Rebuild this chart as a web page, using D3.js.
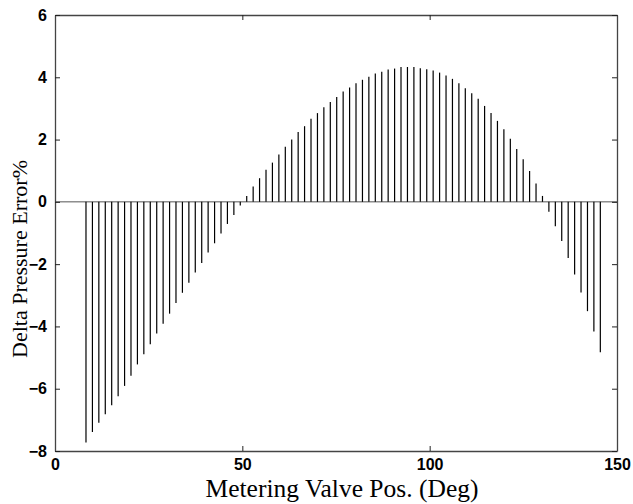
<!DOCTYPE html>
<html>
<head>
<meta charset="utf-8">
<script src="https://cdn.jsdelivr.net/npm/d3@7"></script>
<style>
  html, body { margin: 0; padding: 0; background: #fff; }
  svg { display: block; }
  .tick text { font-family: "Liberation Sans", Arial, sans-serif; font-weight: bold; font-size: 16px; fill: #000; }
  .axis-title { font-family: "Liberation Serif", "DejaVu Serif", serif; fill: #000; }
</style>
</head>
<body>
<svg id="chart" width="633" height="504"></svg>
<script>
// valve positions (deg) of each stem
const positions = [
  8.27, 9.99, 11.70, 13.42, 15.13, 16.85, 18.57, 20.28, 22.00, 23.71,
  25.43, 27.15, 28.86, 30.58, 32.29, 34.01, 35.73, 37.44, 39.16, 40.87,
  42.59, 44.31, 46.02, 47.74, 49.45, 51.17, 52.89, 54.60, 56.32, 58.03,
  59.75, 61.47, 63.18, 64.90, 66.61, 68.33, 70.05, 71.76, 73.48, 75.19,
  76.91, 78.63, 80.34, 82.06, 83.77, 85.49, 87.21, 88.92, 90.64, 92.35,
  94.07, 95.79, 97.50, 99.22, 100.93, 102.65, 104.37, 106.08, 107.80, 109.51,
  111.23, 112.95, 114.66, 116.38, 118.09, 119.81, 121.53, 123.24, 124.96, 126.67,
  128.39, 130.11, 131.82, 133.54, 135.25, 136.97, 138.69, 140.40, 142.12, 143.83,
  145.55
];

// delta pressure error (%)
const errors = [
  -7.73, -7.39, -7.09, -6.82, -6.53, -6.24, -5.91, -5.58, -5.22, -4.89,
  -4.57, -4.23, -3.91, -3.59, -3.25, -2.92, -2.60, -2.27, -1.96, -1.63,
  -1.33, -1.02, -0.71, -0.42, -0.12,
  0.19, 0.49, 0.76, 1.03, 1.26, 1.52, 1.77, 2.00, 2.24, 2.43,
  2.67, 2.85, 3.04, 3.21, 3.37, 3.54, 3.67, 3.81, 3.92, 4.02,
  4.12, 4.18, 4.25, 4.28, 4.33, 4.33, 4.33, 4.29, 4.26,
  4.22, 4.15, 4.06, 3.95, 3.81, 3.65, 3.49, 3.31, 3.08, 2.85,
  2.60, 2.33, 2.03, 1.70, 1.37, 0.99, 0.59, 0.19,
  -0.32, -0.78, -1.26, -1.80, -2.33, -2.91, -3.51, -4.16, -4.83
];

const xTicks = [0, 50, 100, 150];
const yTicks = [-8, -6, -4, -2, 0, 2, 4, 6];

const xLabel = "Metering Valve Pos. (Deg)";
const yLabel = "Delta Pressure Error%";

const svg = d3.select("#chart");
const margin = { top: 15, right: 16, bottom: 53, left: 55 };
const width = 633 - margin.left - margin.right;
const height = 504 - margin.top - margin.bottom;

const g = svg.append("g").attr("transform", `translate(${margin.left}, ${margin.top})`);

const x = d3.scaleLinear().domain([0, 150]).range([0, width]);
const y = d3.scaleLinear().domain([-8, 6]).range([height, 0]);

// zero line
g.append("line")
  .attr("x1", 0)
  .attr("x2", width)
  .attr("y1", y(0))
  .attr("y2", y(0))
  .attr("stroke", "#555")
  .attr("stroke-width", 1);

// stems
const data = positions.map((p, i) => ({ pos: p, err: errors[i] }));
g.selectAll(".stem")
  .data(data)
  .join("line")
  .attr("class", "stem")
  .attr("x1", (d) => x(d.pos))
  .attr("x2", (d) => x(d.pos))
  .attr("y1", y(0))
  .attr("y2", (d) => y(d.err))
  .attr("stroke", "#000")
  .attr("stroke-width", 1.2);

// axes, ticks pointing inward like the original
function styleAxis(sel) {
  sel.select(".domain").attr("stroke", "#444").attr("stroke-width", 1.3);
  sel.selectAll(".tick line").attr("stroke", "#222");
}

g.append("g")
  .attr("transform", `translate(0, ${height})`)
  .call(d3.axisBottom(x).tickValues(xTicks).tickSize(-5).tickPadding(8).tickSizeOuter(0))
  .call(styleAxis);

g.append("g")
  .call(d3.axisTop(x).tickValues(xTicks).tickSize(-5).tickFormat("").tickSizeOuter(0))
  .call(styleAxis);

g.append("g")
  .call(d3.axisLeft(y).tickValues(yTicks).tickSize(-5).tickPadding(8).tickSizeOuter(0))
  .call(styleAxis);

g.append("g")
  .attr("transform", `translate(${width}, 0)`)
  .call(d3.axisRight(y).tickValues(yTicks).tickSize(-5).tickFormat("").tickSizeOuter(0))
  .call(styleAxis);

svg.append("text")
  .attr("class", "axis-title")
  .attr("x", 342)
  .attr("y", 497)
  .attr("text-anchor", "middle")
  .style("font-size", "25.5px")
  .text(xLabel);

svg.append("text")
  .attr("class", "axis-title")
  .attr("transform", `translate(27, 259) rotate(-90)`)
  .attr("text-anchor", "middle")
  .style("font-size", "22px")
  .text(yLabel);
</script>
</body>
</html>
